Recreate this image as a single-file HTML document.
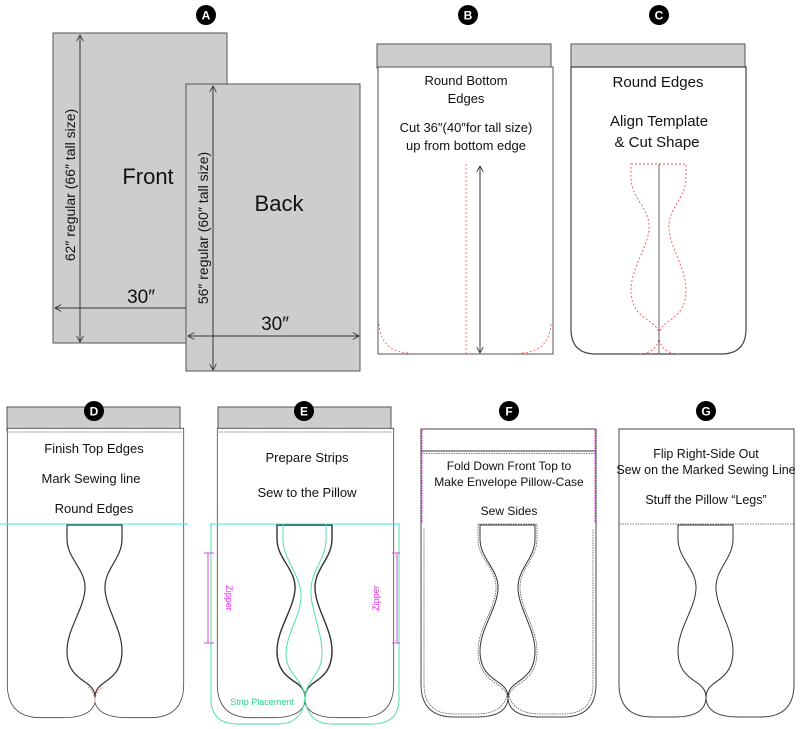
<!DOCTYPE html>
<html><head><meta charset="utf-8"><style>
html,body{margin:0;padding:0;background:#fff}
svg{display:block}
text{font-family:"Liberation Sans",sans-serif;fill:#111}
</style></head><body>
<svg width="800" height="729" viewBox="0 0 800 729" xmlns="http://www.w3.org/2000/svg">
<defs>
<path id="outer" d="M0,0 H175 V255 Q175,288 142,288 H120 Q87,288 87,268 Q87,288 55,288 H33 Q0,288 0,255 Z"/>
<path id="cut" d="M59,96 H114 V110 C114,130 96,140 97,160 C98,180 114,200 114,222 C114,245 100,250 93,256 Q87,261 87,268 Q87,261 81,256 C74,250 59,245 59,222 C59,200 76,180 77,160 C78,140 59,130 59,110 Z"/>
<marker id="ar" viewBox="0 0 10 10" refX="9" refY="5" markerWidth="7" markerHeight="7" orient="auto-start-reverse"><path d="M0,0 L9,5 L0,10" fill="none" stroke="#333" stroke-width="1.2"/></marker>
</defs>

<!-- A -->
<rect x="53" y="33" width="174" height="310" fill="#cdcdcd" stroke="#555" stroke-width="1"/>
<rect x="186" y="84" width="174" height="287" fill="#cdcdcd" stroke="#555" stroke-width="1"/>
<line x1="80" y1="35" x2="80" y2="342" stroke="#333" marker-start="url(#ar)" marker-end="url(#ar)"/>
<line x1="55" y1="308" x2="186" y2="308" stroke="#333" marker-start="url(#ar)"/>
<line x1="213" y1="86" x2="213" y2="370" stroke="#333" marker-start="url(#ar)" marker-end="url(#ar)"/>
<line x1="188" y1="336" x2="359" y2="336" stroke="#333" marker-start="url(#ar)" marker-end="url(#ar)"/>
<text x="148" y="184" font-size="22" text-anchor="middle">Front</text>
<text x="279" y="211" font-size="22" text-anchor="middle">Back</text>
<text x="141" y="303" font-size="19" text-anchor="middle">30″</text>
<text x="275" y="330" font-size="19" text-anchor="middle">30″</text>
<text transform="translate(75,185) rotate(-90)" font-size="14" text-anchor="middle">62″ regular (66″ tall size)</text>
<text transform="translate(208,228) rotate(-90)" font-size="14" text-anchor="middle">56″ regular (60″ tall size)</text>

<!-- B -->
<rect x="377" y="44" width="174" height="24" fill="#cdcdcd" stroke="#555"/>
<rect x="378" y="67" width="175" height="287" fill="#fff" stroke="#555"/>
<path d="M379,324 Q381,352 409,353 M551,324 Q549,352 521,353" fill="none" stroke="#e55" stroke-dasharray="2,2" stroke-width="0.8"/>
<line x1="466" y1="164" x2="466" y2="354" stroke="#e55" stroke-dasharray="2,2" stroke-width="0.8"/>
<line x1="480" y1="166" x2="480" y2="353" stroke="#333" marker-start="url(#ar)" marker-end="url(#ar)"/>
<g font-size="13" text-anchor="middle">
<text x="466" y="85">Round Bottom</text><text x="466" y="103">Edges</text>
<text x="466" y="132">Cut 36″(40″for tall size)</text><text x="466" y="150">up from bottom edge</text>
</g>

<!-- C -->
<rect x="571" y="44" width="174" height="24" fill="#cdcdcd" stroke="#555"/>
<path d="M571,67 H746 V329 Q746,354 721,354 H596 Q571,354 571,329 Z" fill="#fff" stroke="#444" stroke-width="1.2"/>
<g transform="translate(572,68)">
<use href="#cut" fill="none" stroke="#e55" stroke-dasharray="2,2" stroke-width="0.9"/>
<path d="M87,268 C87,278 80,286 66,286 M87,268 C87,278 94,286 108,286" fill="none" stroke="#e55" stroke-dasharray="2,2" stroke-width="0.9"/>
</g>
<line x1="659" y1="164" x2="659" y2="354" stroke="#666"/>
<g font-size="15" text-anchor="middle">
<text x="658" y="87">Round Edges</text>
<text x="659" y="126">Align Template</text><text x="657" y="147">&amp; Cut Shape</text>
</g>

<!-- D -->
<rect x="7" y="407" width="173" height="24" fill="#cdcdcd" stroke="#555"/>
<g transform="translate(8,429)">
<use href="#outer" fill="#fff" stroke="#444" stroke-width="2.2"/>
<use href="#outer" fill="#fff" stroke="#fff" stroke-width="0.6"/>
<use href="#cut" fill="#fff" stroke="#333" stroke-width="1.2"/>
<path d="M80,258 Q87,264 87,272 Q87,264 94,258" fill="none" stroke="#e55" stroke-dasharray="1.5,1.5" stroke-width="0.8"/>
</g>
<line x1="9" y1="432" x2="182" y2="432" stroke="#555" stroke-dasharray="1.5,1" stroke-width="0.8"/>
<g font-size="13" text-anchor="middle">
<text x="94" y="453">Finish Top Edges</text><text x="91" y="483">Mark Sewing line</text><text x="94" y="513">Round Edges</text>
</g>
<line x1="0" y1="524" x2="188" y2="524" stroke="#3ee" stroke-width="1"/>

<!-- E -->
<rect x="218" y="407" width="173" height="24" fill="#cdcdcd" stroke="#555"/>
<g transform="translate(218,429)">
<use href="#outer" fill="#fff" stroke="#444" stroke-width="2.2"/>
<use href="#outer" fill="#fff" stroke="#fff" stroke-width="0.6"/>
<use href="#cut" fill="#fff" stroke="#333" stroke-width="1.4"/>
<path d="M-7,95 V270 Q-7,295 20,295 H60 Q85,295 87,268 Q89,295 114,295 H154 Q181,295 181,270 V95" fill="none" stroke="#4d9" stroke-width="0.9"/>
<path d="M65,95 V110 C65,130 82,145 83,165 C84,185 68,205 68,225 C68,245 85,250 87,268 C89,250 104,245 104,225 C104,200 92,180 93,160 C94,140 108,130 108,110 V95" fill="none" stroke="#4d9" stroke-width="0.9"/>
</g>
<line x1="219" y1="432" x2="392" y2="432" stroke="#555" stroke-dasharray="1.5,1" stroke-width="0.8"/>
<line x1="210" y1="524" x2="400" y2="524" stroke="#3ee" stroke-width="1"/>
<g stroke="#d4d" stroke-width="1"><line x1="208" y1="553" x2="208" y2="643"/><line x1="204" y1="553" x2="214" y2="553"/><line x1="204" y1="643" x2="214" y2="643"/>
<line x1="397" y1="553" x2="397" y2="643"/><line x1="392" y1="553" x2="400" y2="553"/><line x1="392" y1="643" x2="400" y2="643"/></g>
<text transform="translate(226,598) rotate(90)" font-size="9" text-anchor="middle" style="fill:#e2e">Zipper</text>
<text transform="translate(379,598) rotate(-90)" font-size="9" text-anchor="middle" style="fill:#e2e">Zipper</text>
<text x="262" y="705" font-size="9" text-anchor="middle" style="fill:#3c8">Strip Placement</text>
<g font-size="13" text-anchor="middle"><text x="307" y="462">Prepare Strips</text><text x="307" y="497">Sew to the Pillow</text></g>

<!-- F -->
<g transform="translate(421,429)">
<use href="#outer" fill="#fff" stroke="#444" stroke-width="1"/>
<path d="M3,100 V255 Q3,285 33,285 H55 Q84,285 87,262 Q90,285 120,285 H142 Q172,285 172,255 V100" fill="none" stroke="#555" stroke-dasharray="1.5,1" stroke-width="0.8"/>
<use href="#cut" fill="#fff" stroke="#333" stroke-width="1"/>
<path d="M57,95 H116 V110 C116,130 98,140 99,160 C100,180 116,200 116,222 C116,247 101,252 94,258 Q88,263 87,270 Q86,263 80,258 C73,252 57,247 57,222 C57,200 74,180 75,160 C76,140 57,130 57,110 Z" fill="none" stroke="#555" stroke-dasharray="1.5,1" stroke-width="0.8"/>
</g>
<line x1="422" y1="430" x2="422" y2="523" stroke="#e3e" stroke-dasharray="1.5,1"/>
<line x1="595" y1="430" x2="595" y2="523" stroke="#e3e" stroke-dasharray="1.5,1"/>
<line x1="421" y1="451" x2="596" y2="451" stroke="#333" stroke-width="1"/>
<line x1="421" y1="453.5" x2="596" y2="453.5" stroke="#555" stroke-dasharray="1.5,1" stroke-width="0.8"/>
<g font-size="12" text-anchor="middle"><text x="509" y="470">Fold Down Front Top to</text><text x="509" y="486">Make Envelope Pillow-Case</text><text x="509" y="515">Sew Sides</text></g>

<!-- G -->
<g transform="translate(619,429)">
<use href="#outer" fill="#fff" stroke="#444" stroke-width="1"/>
<use href="#cut" fill="#fff" stroke="#333" stroke-width="1"/>
</g>
<line x1="620" y1="524" x2="794" y2="524" stroke="#555" stroke-dasharray="1.5,1" stroke-width="0.8"/>
<g font-size="12.5" text-anchor="middle"><text x="706" y="458">Flip Right-Side Out</text><text x="706" y="474">Sew on the Marked Sewing Line</text><text x="706" y="504">Stuff the Pillow “Legs”</text></g>

<!-- circles -->
<g font-size="12" font-weight="bold">
<circle cx="206" cy="15" r="10" fill="#000"/><text x="206" y="19.5" text-anchor="middle" style="fill:#fff">A</text>
<circle cx="468" cy="15" r="10" fill="#000"/><text x="468" y="19.5" text-anchor="middle" style="fill:#fff">B</text>
<circle cx="659" cy="15" r="10" fill="#000"/><text x="659" y="19.5" text-anchor="middle" style="fill:#fff">C</text>
<circle cx="94" cy="411" r="10" fill="#000"/><text x="94" y="415.5" text-anchor="middle" style="fill:#fff">D</text>
<circle cx="304" cy="411" r="10" fill="#000"/><text x="304" y="415.5" text-anchor="middle" style="fill:#fff">E</text>
<circle cx="509" cy="411" r="10" fill="#000"/><text x="509" y="415.5" text-anchor="middle" style="fill:#fff">F</text>
<circle cx="706" cy="411" r="10" fill="#000"/><text x="706" y="415.5" text-anchor="middle" style="fill:#fff">G</text>
</g>
</svg>
</body></html>
